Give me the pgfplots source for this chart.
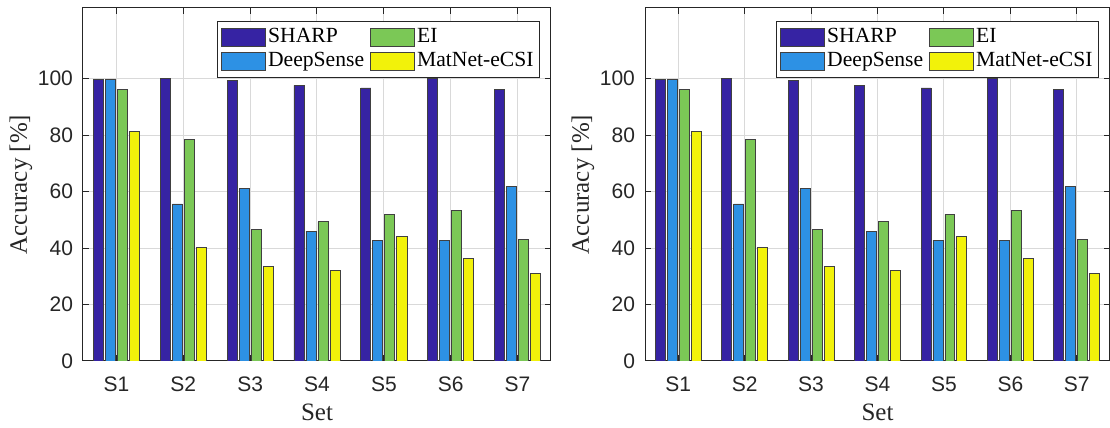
\documentclass[border=0pt]{standalone}
\usepackage{pgfplots}
\pgfplotsset{compat=1.18}
\usepackage{pgfplotstable}
\usepackage{fontspec}
\setmainfont{Liberation Serif}
\newfontfamily\ticksf{Liberation Sans}
\definecolor{cSharp}{RGB}{54,35,163}
\definecolor{cDeep}{RGB}{45,145,228}
\definecolor{cEI}{RGB}{123,200,86}
\definecolor{cMat}{RGB}{242,242,10}
\pgfplotstableread{
x SHARP DeepSense EI MatNet
1 99.6 99.6 96.2 81.4
2 100.0 55.6 78.3 40.3
3 99.4 61.2 46.7 33.6
4 97.6 46.0 49.3 32.2
5 96.7 42.8 51.9 44.0
6 99.9 42.8 53.2 36.4
7 96.1 61.9 43.1 31.1
}\datatable
\pgfplotsset{
  accstyle/.style={
    scale only axis,
    width=234pt, height=176.5pt,
    xmin=0.5, xmax=7.5, ymin=0, ymax=125,
    xtick={1,...,7},
    xticklabels={S1,S2,S3,S4,S5,S6,S7},
    ytick={0,20,40,60,80,100},
    tick align=inside, tick pos=both,
    major tick length=3pt,
    /pgf/number format/assume math mode=true,
    tick label style={font=\ticksf\fontsize{10.5}{12}\selectfont, text=black!85},
    xticklabel style={yshift=-4.5pt},
    yticklabel style={xshift=-1.5pt},
    grid=major,
    major grid style={black!15, line width=0.5pt},
    axis line style={black!85, line width=0.5pt},
    every tick/.style={black!85, line width=0.5pt},
    every axis x label/.style={at={(axis description cs:0.5,0)}, anchor=center, yshift=-25.5pt},
    every axis y label/.style={at={(axis description cs:0,0.5)}, anchor=center, rotate=90, yshift=31pt},
    label style={font=\fontsize{12.5}{14}\selectfont, text=black!85},
    xlabel={Set}, ylabel={Accuracy [\%]},
    legend columns=2,
    transpose legend,
    legend cell align=left,
    legend style={at={(rel axis cs:0.9765,0.963)}, anchor=north east,
      draw=black!85, line width=0.5pt, inner sep=2pt,
      font=\fontsize{10.8}{12}\selectfont,
      nodes={inner sep=1pt, text height=7.6pt, text depth=2.4pt},
      /tikz/every even column/.append style={column sep=2pt}},
    legend image code/.code={\draw[#1, line width=0.5pt] (0pt,-4.5pt) rectangle (22pt,4.5pt);},
    bar width=0.15,
  },
  barsty/.style={ybar, draw=black!75, line width=0.4pt, fill=#1},
}
\begin{document}
\begin{tikzpicture}
\path[use as bounding box] (-41.5pt,-33.5pt) rectangle (513.5pt,180.5pt);
\begin{axis}[accstyle]
\addplot[barsty=cSharp, bar shift=-0.27] table[x=x,y=SHARP] {\datatable};
\addplot[barsty=cDeep, bar shift=-0.09] table[x=x,y=DeepSense] {\datatable};
\addplot[barsty=cEI, bar shift=0.09] table[x=x,y=EI] {\datatable};
\addplot[barsty=cMat, bar shift=0.27] table[x=x,y=MatNet] {\datatable};
\legend{SHARP,DeepSense,EI,MatNet-eCSI}
\end{axis}
\begin{axis}[accstyle, xshift=281pt, width=232.5pt]
\addplot[barsty=cSharp, bar shift=-0.27] table[x=x,y=SHARP] {\datatable};
\addplot[barsty=cDeep, bar shift=-0.09] table[x=x,y=DeepSense] {\datatable};
\addplot[barsty=cEI, bar shift=0.09] table[x=x,y=EI] {\datatable};
\addplot[barsty=cMat, bar shift=0.27] table[x=x,y=MatNet] {\datatable};
\legend{SHARP,DeepSense,EI,MatNet-eCSI}
\end{axis}
\end{tikzpicture}
\end{document}
